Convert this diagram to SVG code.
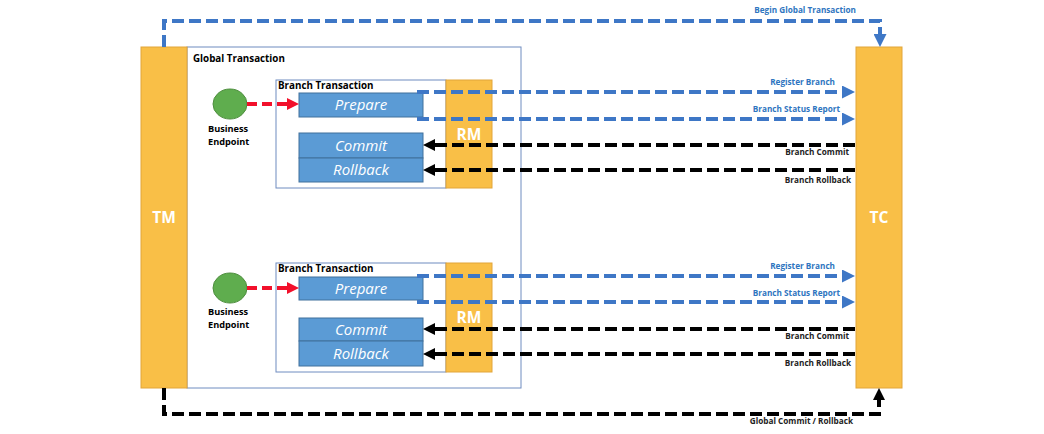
<svg xmlns="http://www.w3.org/2000/svg" width="1044" height="434" viewBox="0 0 1044 434">
<defs>
<style>
.bar{fill:#F9BF47;stroke:#E2A53A;stroke-width:1}
.bartxt{font-family:"Open Sans","Noto Sans",sans-serif;font-weight:bold;font-size:15.5px;fill:#fff;text-anchor:middle}
.frame{fill:#fff;stroke:#6F8CC0;stroke-width:1}
.frametxt{font-family:"Open Sans","Noto Sans",sans-serif;font-weight:bold;font-size:9.8px;fill:#000}
.step{fill:#5B9BD5;stroke:#41719C;stroke-width:1}
.steptxt{font-family:"Open Sans","Noto Sans",sans-serif;font-style:italic;font-size:15px;fill:#fff;text-anchor:middle}
.ep{fill:#5FAD4E;stroke:#4E8E3E;stroke-width:1}
.eptxt{font-family:"Open Sans","Noto Sans",sans-serif;font-weight:bold;font-size:9.2px;fill:#000}
.blue{fill:none;stroke:#3E77C6;stroke-width:4;stroke-dasharray:12 5}
.black{fill:none;stroke:#000;stroke-width:4;stroke-dasharray:12 5}
.red{fill:none;stroke:#F2102B;stroke-width:4;stroke-dasharray:10 5}
.lblb{font-family:"Open Sans","Noto Sans",sans-serif;font-weight:bold;font-size:8.2px;fill:#2E75C0;text-anchor:end}
.lblk{font-family:"Open Sans","Noto Sans",sans-serif;font-weight:bold;font-size:8.2px;fill:#222;text-anchor:end}
</style>
<marker id="ab" viewBox="0 0 13 13" markerWidth="13" markerHeight="13" refX="4" refY="6.5" orient="auto" markerUnits="userSpaceOnUse"><path d="M0,0 L13,6.5 L0,13 z" fill="#3E77C6"/></marker>
<marker id="ak" viewBox="0 0 12 12" markerWidth="12" markerHeight="12" refX="4" refY="6" orient="auto" markerUnits="userSpaceOnUse"><path d="M0,0 L12,6 L0,12 z" fill="#000"/></marker>
<marker id="ar" viewBox="0 0 12 12" markerWidth="12" markerHeight="12" refX="4" refY="6" orient="auto" markerUnits="userSpaceOnUse"><path d="M0,0 L12,6 L0,12 z" fill="#F2102B"/></marker>
</defs>
<rect width="1044" height="434" fill="#fff"/>

<g id="global-transaction">
<rect class="frame" x="187" y="47" width="334" height="341"/>
<text class="frametxt" x="193" y="62">Global Transaction</text>
</g>

<g id="branch1">
<rect class="frame" x="276" y="80" width="170" height="108"/>
<text class="frametxt" x="278" y="89">Branch Transaction</text>
</g>
<g id="branch2">
<rect class="frame" x="276" y="263" width="170" height="109"/>
<text class="frametxt" x="278" y="272">Branch Transaction</text>
</g>

<g id="tm">
<rect class="bar" x="141" y="47" width="46" height="341"/>
<text class="bartxt" x="164" y="223">TM</text>
</g>
<g id="tc">
<rect class="bar" x="856" y="47" width="46" height="341"/>
<text class="bartxt" x="879" y="223">TC</text>
</g>

<g id="rm1">
<rect class="bar" x="446" y="80" width="46" height="108"/>
<text class="bartxt" x="469" y="140">RM</text>
</g>
<g id="rm2">
<rect class="bar" x="446" y="263" width="46" height="109"/>
<text class="bartxt" x="469" y="323">RM</text>
</g>

<g id="prepare1"><rect class="step" x="299" y="93" width="124" height="24"/><text class="steptxt" x="361" y="110">Prepare</text></g>
<g id="commit1"><rect class="step" x="299" y="133" width="124" height="25"/><text class="steptxt" x="361" y="151">Commit</text></g>
<g id="rollback1"><rect class="step" x="299" y="158" width="124" height="24"/><text class="steptxt" x="361" y="175">Rollback</text></g>

<g id="prepare2"><rect class="step" x="299" y="277" width="124" height="23"/><text class="steptxt" x="361" y="294">Prepare</text></g>
<g id="commit2"><rect class="step" x="299" y="318" width="124" height="23"/><text class="steptxt" x="361" y="335">Commit</text></g>
<g id="rollback2"><rect class="step" x="299" y="341" width="124" height="25"/><text class="steptxt" x="361" y="359">Rollback</text></g>

<g id="endpoint1">
<ellipse class="ep" cx="230" cy="104" rx="17" ry="15"/>
<text class="eptxt" x="208" y="132">Business</text>
<text class="eptxt" x="208" y="145">Endpoint</text>
</g>
<g id="endpoint2">
<ellipse class="ep" cx="230" cy="288" rx="17" ry="15"/>
<text class="eptxt" x="208" y="315">Business</text>
<text class="eptxt" x="208" y="328">Endpoint</text>
</g>

<g id="connectors">
<path class="blue" d="M164,47 V21 H880 V38" marker-end="url(#ab)"/>
<path class="black" d="M164,388 V414 H879 V396" marker-end="url(#ak)"/>

<path class="red" d="M247,104 H291" marker-end="url(#ar)"/>
<path class="red" d="M247,288 H291" marker-end="url(#ar)"/>

<path class="blue" d="M417,92 H846" marker-end="url(#ab)"/>
<path class="blue" d="M417,119 H846" marker-end="url(#ab)"/>
<path class="black" d="M855,145 H431" marker-end="url(#ak)"/>
<path class="black" d="M855,170 H431" marker-end="url(#ak)"/>

<path class="blue" d="M417,276 H846" marker-end="url(#ab)"/>
<path class="blue" d="M417,302 H846" marker-end="url(#ab)"/>
<path class="black" d="M855,329 H431" marker-end="url(#ak)"/>
<path class="black" d="M855,354 H431" marker-end="url(#ak)"/>
</g>

<g id="labels">
<text class="lblb" x="856" y="13">Begin Global Transaction</text>
<text class="lblb" x="835" y="85">Register Branch</text>
<text class="lblb" x="840" y="112">Branch Status Report</text>
<text class="lblk" x="849" y="155">Branch Commit</text>
<text class="lblk" x="851" y="183">Branch Rollback</text>
<text class="lblb" x="835" y="269">Register Branch</text>
<text class="lblb" x="840" y="296">Branch Status Report</text>
<text class="lblk" x="849" y="339">Branch Commit</text>
<text class="lblk" x="851" y="366">Branch Rollback</text>
<text class="lblk" x="853" y="424">Global Commit / Rollback</text>
</g>
</svg>
